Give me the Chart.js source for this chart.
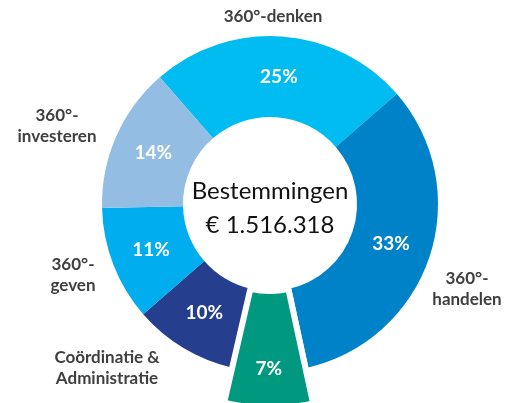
<!DOCTYPE html>
<html>
<head>
<meta charset="utf-8">
<script src="https://cdn.jsdelivr.net/npm/chart.js@4/dist/chart.umd.min.js"></script>
<style>
body{margin:0;background:#fff;}
#wrap{width:513px;height:403px;position:relative;}
</style>
</head>
<body>
<div id="wrap"><canvas id="bestemmingChart"></canvas></div>
<script>

// ------------------------------
// Data
// ------------------------------

const categories = ["360°-denken", "360°-handelen", "", "Coördinatie & Administratie", "360°-geven", "360°-investeren"];
const shares = [25, 33, 7, 10, 11, 14];
const labelLines = [
    ["360°-denken"],
    ["360°-", "handelen"],
    [],
    ["Coördinatie &", "Administratie"],
    ["360°-", "geven"],
    ["360°-", "investeren"]
];
const centerLines = ["Bestemmingen", "€ 1.516.318"];

// ------------------------------
// Look
// ------------------------------

const colors = ["#00BCF1", "#0082C8", "#00997F", "#253F8E", "#00ADEE", "#94BDE4"];
const bigIndex = 2;          // the pulled-out green slice
const bigRadius = 204;
// first-line anchor of each outside label (text centred)
const labelAnchors = [[273, 17], [467, 279], null, [107, 358], [73, 265], [57, 116]];

// ------------------------------
// Plugin: big slice + texts
// ------------------------------

const donutExtras = {
    id: "donutExtras",

    afterDatasetsUpdate(chart){
        const arc = chart.getDatasetMeta(0).data[bigIndex];
        if(arc){
            arc.outerRadius = bigRadius;
        }
    },

    afterDatasetsDraw(chart){
        const ctx = chart.ctx;
        const arcs = chart.getDatasetMeta(0).data;

        // draw the green slice last so its white edge lies over the neighbours
        arcs[bigIndex].draw(ctx);

        ctx.save();
        ctx.fillStyle = "#ffffff";
        ctx.font = "bold 19px Lato";
        ctx.textAlign = "center";
        ctx.textBaseline = "middle";

        arcs.forEach(function(arc, i){
            const mid = (arc.startAngle + arc.endAngle) / 2;
            const r = i === bigIndex ? arc.innerRadius + 78 : (arc.innerRadius + arc.outerRadius) / 2;
            ctx.fillText(shares[i] + "%", arc.x + Math.cos(mid) * r, arc.y + Math.sin(mid) * r);
        });

        // outside labels
        ctx.fillStyle = "#3f3f3f";
        ctx.font = "bold 17px Lato";
        labelLines.forEach(function(lines, i){
            const a = labelAnchors[i];
            if(!a) return;
            lines.forEach(function(line, k){
                ctx.fillText(line, a[0], a[1] + k * 21);
            });
        });

        // centre text
        const c = arcs[0];
        ctx.fillStyle = "#111111";
        ctx.font = "24px Lato";
        ctx.fillText(centerLines[0], c.x, c.y - 13);
        ctx.fillText(centerLines[1], c.x, c.y + 21);

        ctx.restore();
    }
};

// ------------------------------
// Chart
// ------------------------------

new Chart(document.getElementById("bestemmingChart"), {

    type: "doughnut",

    data: {
        labels: categories,
        datasets: [{
            data: shares,
            backgroundColor: colors,
            borderColor: "#ffffff",
            borderWidth: shares.map(function(v, i){ return i === bigIndex ? 6 : 0; }),
            hoverOffset: 0,
            clip: false
        }]
    },

    options: {
        responsive: true,
        maintainAspectRatio: false,
        animation: false,
        rotation: -41,
        cutout: "51.8%",
        layout: {
            padding: { left: 99, right: 72, top: 33, bottom: 28 }
        },
        plugins: {
            legend: { display: false },
            tooltip: { enabled: false }
        }
    },

    plugins: [donutExtras]

});

</script>
</body>
</html>
